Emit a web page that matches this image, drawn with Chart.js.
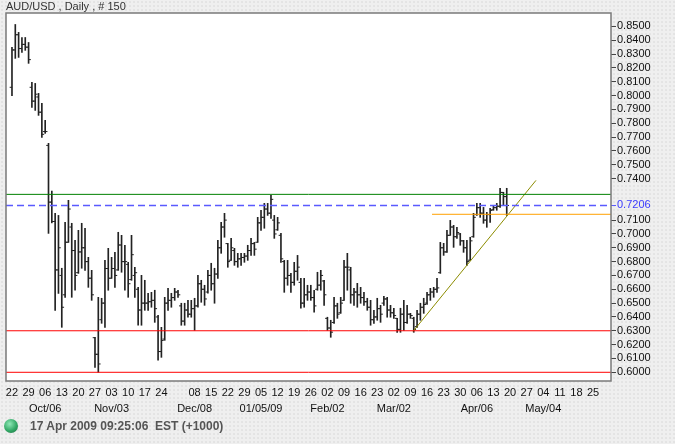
<!DOCTYPE html>
<html>
<head>
<meta charset="utf-8">
<script src="https://cdn.jsdelivr.net/npm/chart.js@4/dist/chart.umd.min.js"></script>
<style>
  html, body { margin: 0; padding: 0; }
  body {
    width: 675px; height: 444px; position: relative; overflow: hidden;
    background-color: #efefef;
    background-image: radial-gradient(#e3e3e3 0.7px, transparent 0.8px);
    background-size: 4px 4px;
    font-family: "Liberation Sans", Arial, sans-serif;
  }
  #chart { position: absolute; left: 0; top: 0; }
  #title { position: absolute; left: 6px; top: 0px; font-size: 11px; color: #333; }
  #led {
    position: absolute; left: 4px; top: 419px; width: 14px; height: 14px; border-radius: 50%;
    background: radial-gradient(circle at 40% 35%, #8fe8b6, #33a866 55%, #1c6b3f);
  }
  #status { position: absolute; left: 30px; top: 419px; font-size: 12px; font-weight: bold; color: #555; white-space: pre; }
</style>
</head>
<body>
<canvas id="chart" width="675" height="444"></canvas>
<div id="title">AUD/USD , Daily , # 150</div>
<div id="led"></div>
<div id="status">17 Apr 2009 09:25:06  EST (+1000)</div>
<script>
// daily bars, 22 Sep 2008 .. 17 Apr 2009
const highs = [
  0.8348,0.8514,0.8457,0.8420,0.8420,0.8384,0.8095,0.8088,0.8016,0.7944,
  0.7821,0.7655,0.7310,0.7149,0.7134,0.6752,0.7084,0.7243,0.7077,0.6954,
  0.7026,0.7077,0.7041,0.6831,0.6737,0.6253,0.6542,0.6535,0.6809,0.6896,
  0.6831,0.6867,0.7012,0.6990,0.6918,0.6795,0.6990,0.6759,0.6614,0.6701,
  0.6665,0.6571,0.6578,0.6593,0.6412,0.6325,0.6542,0.6607,0.6571,0.6607,
  0.6593,0.6499,0.6499,0.6520,0.6520,0.6535,0.6701,0.6665,0.6629,0.6737,
  0.6788,0.6752,0.6954,0.7084,0.7149,0.6932,0.6968,0.6896,0.6860,0.6860,
  0.6860,0.6918,0.6968,0.6939,0.7120,0.7171,0.7221,0.7221,0.7279,0.7134,
  0.7120,0.7004,0.6809,0.6809,0.6715,0.6795,0.6845,0.6679,0.6679,0.6629,
  0.6629,0.6593,0.6723,0.6737,0.6665,0.6398,0.6376,0.6542,0.6499,0.6542,
  0.6809,0.6860,0.6759,0.6607,0.6643,0.6614,0.6578,0.6535,0.6520,0.6448,
  0.6535,0.6484,0.6549,0.6542,0.6484,0.6463,0.6390,0.6463,0.6520,0.6484,
  0.6426,0.6398,0.6448,0.6499,0.6535,0.6578,0.6607,0.6614,0.6679,0.6939,
  0.6932,0.7026,0.7098,0.7062,0.7048,0.7004,0.6954,0.6954,0.6976,0.7149,
  0.7221,0.7221,0.7192,0.7156,0.7185,0.7207,0.7221,0.7330,0.7301,0.7330
];
const lows = [
  0.8000,0.8269,0.8276,0.8312,0.8327,0.8233,0.7915,0.7893,0.7857,0.7698,
  0.7727,0.7004,0.7080,0.6448,0.6570,0.6325,0.6542,0.6939,0.6542,0.6593,
  0.6715,0.6752,0.6737,0.6614,0.6520,0.6036,0.6000,0.6354,0.6325,0.6593,
  0.6679,0.6614,0.6737,0.6723,0.6593,0.6542,0.6665,0.6542,0.6340,0.6340,
  0.6448,0.6448,0.6470,0.6361,0.6087,0.6108,0.6231,0.6448,0.6470,0.6520,
  0.6542,0.6340,0.6340,0.6398,0.6398,0.6303,0.6470,0.6506,0.6484,0.6571,
  0.6593,0.6499,0.6679,0.6860,0.6976,0.6759,0.6809,0.6773,0.6759,0.6773,
  0.6795,0.6809,0.6845,0.6845,0.6939,0.7026,0.7041,0.7134,0.7113,0.6968,
  0.7026,0.6795,0.6578,0.6629,0.6578,0.6629,0.6665,0.6463,0.6470,0.6520,
  0.6520,0.6434,0.6593,0.6593,0.6484,0.6303,0.6253,0.6354,0.6390,0.6426,
  0.6520,0.6593,0.6499,0.6484,0.6470,0.6499,0.6484,0.6448,0.6340,0.6354,
  0.6376,0.6361,0.6484,0.6398,0.6398,0.6390,0.6289,0.6289,0.6303,0.6354,
  0.6390,0.6289,0.6325,0.6376,0.6426,0.6490,0.6520,0.6542,0.6578,0.6715,
  0.6845,0.6867,0.6990,0.6903,0.6968,0.6918,0.6867,0.6773,0.6809,0.6976,
  0.7134,0.7120,0.7077,0.7048,0.7084,0.7171,0.7171,0.7192,0.7207,0.7134
];
const opens = [
  0.8060,0.8330,0.8440,0.8340,0.8370,0.8350,0.8060,0.7960,0.7990,0.7880,
  0.7740,0.7640,0.7230,0.7090,0.6740,0.6700,0.6560,0.6940,0.7050,0.6880,
  0.6720,0.6870,0.6900,0.6800,0.6680,0.6250,0.6130,0.6380,0.6500,0.6750,
  0.6680,0.6750,0.6740,0.6920,0.6800,0.6780,0.6670,0.6700,0.6600,0.6450,
  0.6500,0.6500,0.6510,0.6520,0.6400,0.6150,0.6240,0.6500,0.6520,0.6540,
  0.6580,0.6480,0.6370,0.6450,0.6420,0.6460,0.6480,0.6640,0.6600,0.6580,
  0.6700,0.6640,0.6710,0.6900,0.7050,0.6930,0.6810,0.6880,0.6800,0.6820,
  0.6830,0.6840,0.6880,0.6930,0.6940,0.7080,0.7120,0.7180,0.7150,0.7100,
  0.7030,0.6990,0.6800,0.6680,0.6700,0.6650,0.6730,0.6650,0.6500,0.6560,
  0.6580,0.6540,0.6600,0.6630,0.6660,0.6390,0.6320,0.6360,0.6480,0.6430,
  0.6520,0.6760,0.6740,0.6560,0.6580,0.6560,0.6540,0.6510,0.6470,0.6380,
  0.6400,0.6460,0.6500,0.6530,0.6450,0.6430,0.6390,0.6310,0.6420,0.6360,
  0.6420,0.6390,0.6330,0.6420,0.6470,0.6500,0.6560,0.6580,0.6600,0.6720,
  0.6900,0.6870,0.6990,0.7050,0.6980,0.7000,0.6950,0.6900,0.6810,0.6980,
  0.7140,0.7190,0.7150,0.7100,0.7140,0.7175,0.7190,0.7200,0.7300,0.7270
];
const closes = [
  0.8330,0.8440,0.8340,0.8370,0.8350,0.8260,0.7960,0.8010,0.7880,0.7720,
  0.7740,0.7230,0.7090,0.6740,0.6900,0.6470,0.6940,0.7180,0.6880,0.6700,
  0.6870,0.6900,0.6800,0.6680,0.6560,0.6130,0.6060,0.6500,0.6750,0.6680,
  0.6750,0.6700,0.6920,0.6800,0.6800,0.6640,0.6850,0.6720,0.6450,0.6500,
  0.6500,0.6510,0.6520,0.6460,0.6150,0.6230,0.6500,0.6520,0.6540,0.6580,
  0.6560,0.6370,0.6450,0.6420,0.6460,0.6480,0.6640,0.6600,0.6530,0.6700,
  0.6640,0.6710,0.6900,0.7050,0.7100,0.6800,0.6900,0.6800,0.6820,0.6830,
  0.6840,0.6880,0.6930,0.6890,0.7080,0.7120,0.7180,0.7150,0.7250,0.7000,
  0.7080,0.6820,0.6680,0.6700,0.6650,0.6730,0.6760,0.6500,0.6560,0.6580,
  0.6540,0.6480,0.6630,0.6700,0.6560,0.6320,0.6290,0.6480,0.6420,0.6500,
  0.6760,0.6760,0.6560,0.6580,0.6560,0.6540,0.6510,0.6470,0.6380,0.6400,
  0.6460,0.6420,0.6530,0.6450,0.6430,0.6410,0.6310,0.6420,0.6360,0.6420,
  0.6410,0.6310,0.6420,0.6470,0.6490,0.6560,0.6580,0.6600,0.6610,0.6900,
  0.6870,0.6990,0.7050,0.6980,0.7010,0.6950,0.6900,0.6800,0.6950,0.7120,
  0.7190,0.7150,0.7100,0.7140,0.7170,0.7190,0.7200,0.7300,0.7270,0.7206
];

// one label per week (Mondays), 5 trading days apart
const weekDays = ['22','29','06','13','20','27','03','10','17','24','','08','15','22','29','05','12','19',
  '26','02','09','16','23','02','09','16','23','30','06','13','20','27','04','11','18','25'];
const monthLabels = ['','','Oct/06','','','','Nov/03','','','','','Dec/08','','','','01/05/09','','',
  '','Feb/02','','','','Mar/02','','','','','Apr/06','','','','May/04','','',''];

const yTickValues = [0.60,0.61,0.62,0.63,0.64,0.65,0.66,0.67,0.68,0.69,0.70,0.71,0.7206,
  0.74,0.75,0.76,0.77,0.78,0.79,0.80,0.81,0.82,0.83,0.84,0.85];

const lastPrice = 0.7206;
const resistance = 0.7286;
const supportLevel = 0.7142;
const supportFrom = 126.5;
const lowLevels = [0.63, 0.60];
const trendIdx = [120.8, 157.8];
const trendPrice = [0.6296, 0.7387];

const xMin = -1.8, xMax = 180.4;
const yMin = 0.5937, yMax = 0.8597;
const tickShift = 0.33;

function hline(level, from, color, dash) {
  return {
    type: 'line',
    data: [{ x: from, y: level }, { x: xMax, y: level }],
    borderColor: color,
    borderWidth: dash ? 1.6 : 1,
    borderDash: dash || [],
    pointRadius: 0,
    order: 0,
  };
}

const plotFrame = {
  id: 'plotFrame',
  beforeDraw(chart) {
    const a = chart.chartArea;
    const ctx = chart.ctx;
    ctx.save();
    ctx.fillStyle = '#ffffff';
    ctx.fillRect(a.left, a.top, a.right - a.left, a.bottom - a.top);
    ctx.restore();
  },
  afterDraw(chart) {
    const a = chart.chartArea;
    const ctx = chart.ctx;
    ctx.save();
    ctx.strokeStyle = '#7a7a7a';
    ctx.lineWidth = 1.5;
    ctx.strokeRect(a.left, a.top, a.right - a.left, a.bottom - a.top);
    ctx.restore();
  },
};

Chart.defaults.font.family = '"Liberation Sans", Arial, sans-serif';
Chart.defaults.font.size = 11;

new Chart(document.getElementById('chart'), {
  type: 'scatter',
  data: {
    datasets: [
      hline(resistance, xMin, '#008000'),
      hline(lastPrice, xMin, '#5a5aff', [7, 4]),
      hline(supportLevel, supportFrom, '#ffa000'),
      hline(lowLevels[0], xMin, '#ff0000'),
      hline(lowLevels[1], xMin, '#ff0000'),
      {
        type: 'line',
        data: trendIdx.map((x, k) => ({ x: x, y: trendPrice[k] })),
        borderColor: '#8c8c00',
        borderWidth: 1,
        pointRadius: 0,
        order: 0,
      },
      {
        type: 'bar',
        data: highs.map((h, i) => ({ x: i, y: [lows[i], h] })),
        backgroundColor: '#222222',
        barThickness: 1,
        order: 2,
      },
      {
        type: 'scatter',
        data: opens.map((o, i) => ({ x: i - tickShift, y: o })),
        pointStyle: 'line',
        pointRadius: 1.2,
        borderColor: '#222222',
        borderWidth: 1,
        order: 1,
      },
      {
        type: 'scatter',
        data: closes.map((c, i) => ({ x: i + tickShift, y: c })),
        pointStyle: 'line',
        pointRadius: 1.2,
        borderColor: '#222222',
        borderWidth: 1,
        order: 1,
      },
    ],
  },
  options: {
    responsive: false,
    animation: false,
    events: [],
    layout: { padding: { left: 6, top: 13, right: 0, bottom: 0 } },
    plugins: {
      legend: { display: false },
      tooltip: { enabled: false },
    },
    scales: {
      x: {
        type: 'linear',
        min: xMin,
        max: xMax,
        offset: false,
        afterBuildTicks: (s) => { s.ticks = weekDays.map((d, k) => ({ value: k * 5 })); },
        afterFit: (s) => { s.height = 63; },
        grid: { display: false },
        border: { display: false },
        ticks: {
          autoSkip: false,
          maxRotation: 0,
          padding: -4,
          color: '#111',
          font: { size: 11, lineHeight: 16 / 11 },
          callback: (v, idx) => [weekDays[idx], monthLabels[idx]],
        },
      },
      y: {
        type: 'linear',
        position: 'right',
        min: yMin,
        max: yMax,
        afterBuildTicks: (s) => { s.ticks = yTickValues.map((v) => ({ value: v })); },
        afterFit: (s) => { s.width = 64; },
        grid: {
          drawOnChartArea: false,
          drawTicks: true,
          tickLength: 5,
          color: (ctx) => (ctx.tick && ctx.tick.value === lastPrice ? '#5a5aff' : '#444'),
        },
        border: { display: false },
        ticks: {
          autoSkip: false,
          padding: 1,
          color: (ctx) => (ctx.tick.value === lastPrice ? '#3c3cff' : '#111'),
          callback: (v) => v.toFixed(4),
        },
      },
    },
  },
  plugins: [plotFrame],
});
</script>
</body>
</html>
